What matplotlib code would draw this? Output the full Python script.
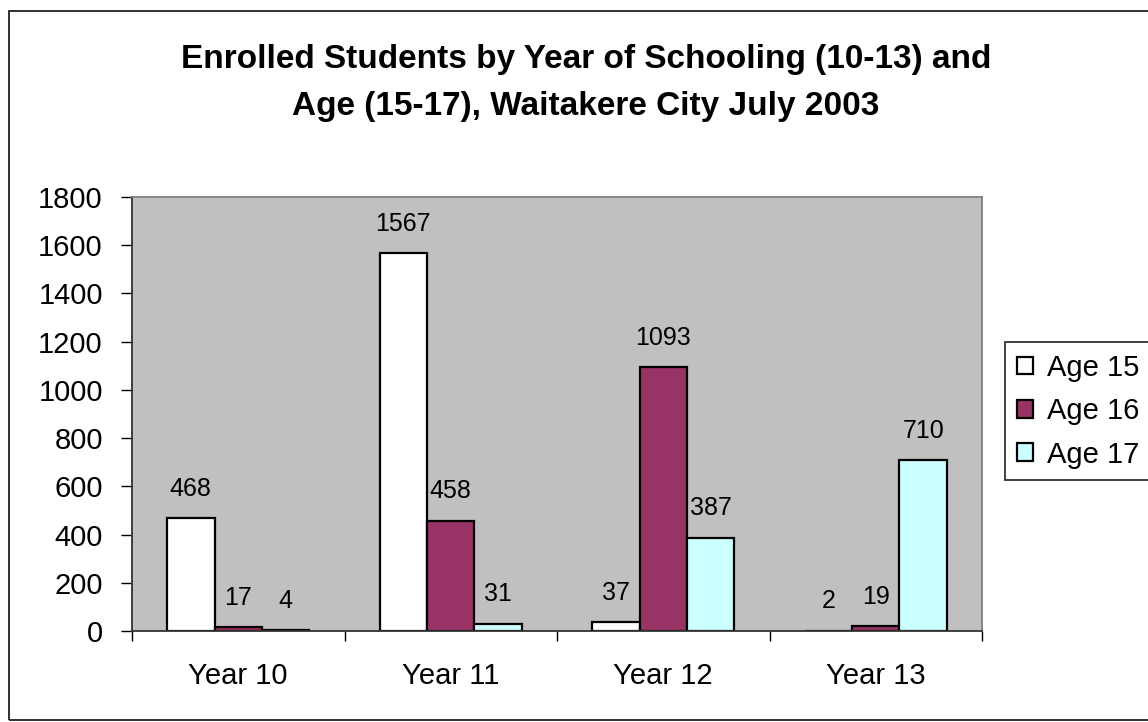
import matplotlib
matplotlib.use("Agg")
import matplotlib.pyplot as plt
from matplotlib.patches import Rectangle
import numpy as np

categories = ["Year 10", "Year 11", "Year 12", "Year 13"]
series_names = ["Age 15", "Age 16", "Age 17"]
age15 = [468, 1567, 37, 2]
age16 = [17, 458, 1093, 19]
age17 = [4, 31, 387, 710]
colors = ["#FFFFFF", "#993366", "#CCFFFF"]
yticks = [0, 200, 400, 600, 800, 1000, 1200, 1400, 1600, 1800]
title_lines = ["Enrolled Students by Year of Schooling (10-13) and",
               "Age (15-17), Waitakere City July 2003"]

plt.rcParams['font.family'] = ['Liberation Sans', 'DejaVu Sans']

W, H = 1148, 722
fig = plt.figure(figsize=(W / 100, H / 100), dpi=100)
fig.patch.set_facecolor("white")
# chart-area border (cropped on the right)
fig.add_artist(Rectangle((9 / W, 1 - 720 / H), (W + 10 - 9) / W, (720 - 11) / H,
                         transform=fig.transFigure, fill=False,
                         edgecolor="#222222", linewidth=1.3, clip_on=False))

L, R, T, B = 132, 982, 197, 631
ax = fig.add_axes([L / W, (H - B) / H, (R - L) / W, (B - T) / H])
ax.set_facecolor("#C0C0C0")

x = np.arange(len(categories))
bw = 0.2235
for i, (vals, c, name) in enumerate(zip([age15, age16, age17], colors, series_names)):
    pos = x + (i - 1) * bw
    ax.bar(pos, vals, width=bw, color=c, edgecolor="black", linewidth=1.6, label=name, zorder=2)
    for p, v in zip(pos, vals):
        ax.annotate(str(v), (p, v), xytext=(0, 16), textcoords="offset points",
                    ha="center", va="baseline", fontsize=18)

ax.set_xlim(-0.5, len(categories) - 0.5)
ax.set_ylim(0, 1800)
ax.set_yticks(yticks)
ax.set_yticklabels([str(t) for t in yticks], fontsize=21)
ax.set_xticks(x)
ax.set_xticklabels(categories, fontsize=21)
ax.set_xticks(np.arange(-0.5, len(categories)), minor=True)
ax.tick_params(axis="x", which="major", length=0, pad=22)
ax.tick_params(axis="x", which="minor", length=7, width=1, direction="out")
ax.tick_params(axis="y", length=8, width=1, direction="out", pad=13)
for s in ["top", "right"]:
    ax.spines[s].set_color("#808080")
    ax.spines[s].set_linewidth(1.3)
for s in ["left", "bottom"]:
    ax.spines[s].set_color("#333333")
    ax.spines[s].set_linewidth(1.3)

cx = (167 + 1005) / 2 / W
fig.text(cx, 1 - 68 / H, title_lines[0], ha="center", va="baseline",
         fontsize=24, fontweight="bold")
fig.text(cx, 1 - 115 / H, title_lines[1], ha="center", va="baseline",
         fontsize=24, fontweight="bold")

handles, labels = ax.get_legend_handles_labels()
leg = fig.legend(handles, labels, loc="upper left", bbox_to_anchor=(1005 / W, 1 - 342 / H),
                 fontsize=21, frameon=True, fancybox=False, edgecolor="black",
                 handlelength=0.55, handleheight=0.55, handletextpad=0.48, labelspacing=0.53,
                 borderpad=0.4, borderaxespad=0)
leg.get_frame().set_linewidth(1.3)

fig.savefig("out.png", dpi=100, facecolor="white")
